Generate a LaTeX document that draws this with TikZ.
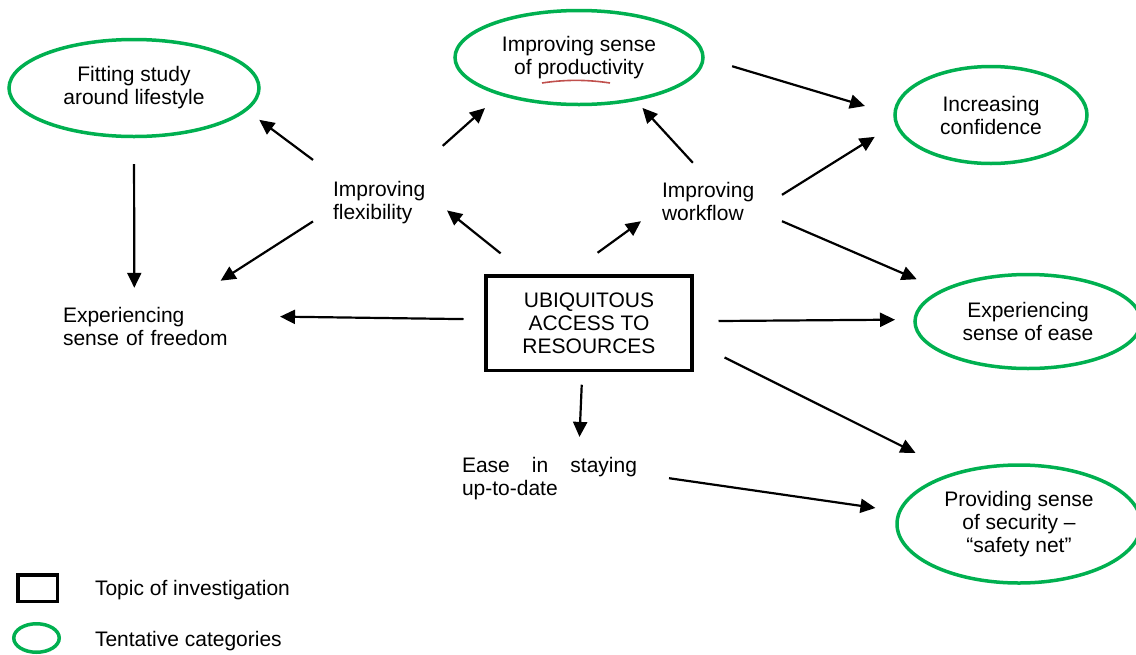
\documentclass[tikz,border=0pt]{standalone}
\usepackage{fontspec}
\setmainfont{Liberation Sans}
\usetikzlibrary{shapes.geometric,arrows.meta}

\definecolor{catgreen}{RGB}{0,176,80}
\definecolor{squigred}{RGB}{192,80,77}

\tikzset{
  cat/.style={ellipse, draw=catgreen, line width=3.5pt, inner sep=0pt,
              outer sep=0pt, align=center},
  topic/.style={rectangle, draw=black, line width=3.5pt, inner sep=0pt,
                outer sep=0pt, align=center},
  lbl/.style={rectangle, inner sep=0pt, outer sep=0pt, align=left},
  legtext/.style={anchor=base west, inner sep=0pt, outer sep=0pt},
  arr/.style={line width=2.2pt, -{Triangle[length=15pt,width=14pt]}},
  squiggle/.style={draw=squigred, line width=1.6pt},
}

\begin{document}
\begin{tikzpicture}[x=1pt, y=-1pt, font=\fontsize{21pt}{23pt}\selectfont]
\useasboundingbox (0,0) rectangle (1136,654);

% central topic
\node[topic, minimum width=206pt, minimum height=94.5pt] (topic) at (589,323)
  {UBIQUITOUS\\ACCESS TO\\RESOURCES};

% tentative categories
\node[cat, minimum width=250pt, minimum height=97pt] (fit) at (134,88)
  {Fitting study\\around lifestyle};
\node[cat, minimum width=248pt, minimum height=94pt] (prod) at (579,57.5)
  {Improving sense\\of productivity};
\node[cat, minimum width=192pt, minimum height=97pt] (conf) at (991,115)
  {Increasing\\confidence};
\node[cat, minimum width=226pt, minimum height=94pt] (ease) at (1028,321.5)
  {Experiencing\\sense of ease};
\node[cat, minimum width=244pt, minimum height=118pt] (sec) at (1019,524)
  {Providing sense\\of security --\\``safety net''};

% intermediate labels
\node[lbl, text width=94pt, inner xsep=20pt, inner ysep=21pt] (flex) at (380,202.2)
  {Improving\\flexibility};
\node[lbl, text width=99pt, inner xsep=21pt, inner ysep=19pt] (work) at (711.5,201)
  {Improving\\workflow};
\node[lbl, text width=166pt, inner xsep=51pt, inner ysep=19pt] (free) at (146,326)
  {Experiencing\\sense of freedom};
\node[lbl, text width=175pt, inner xsep=32pt, inner ysep=20pt] (stay) at (549.5,478.2)
  {\hbox to 175pt{Ease\hfil in\hfil staying}\\up-to-date};

% spelling mark under "productivity"
\draw[squiggle] (542,83) .. controls (565,79.5) and (587,79.5) .. (610,83);

% connectors
\draw[arr, shorten >=16.9pt] (flex.north west) -- (fit.-11.2);
\draw[arr, shorten <=21.1pt, shorten >=21.2pt] (flex.42.4) -- (prod.205.1);
\draw[arr, shorten >=13.1pt] (flex.196.5) -- (free.31.1);
\draw[arr, shorten <=27.5pt] (fit.south) -- (free.107.5);
\draw[arr, shorten <=35.8pt] (topic.142.6) -- (flex.-7.5);
\draw[arr, shorten <=39.1pt] (topic.116.8) -- (work.196.6);
\draw[arr, shorten >=11.4pt] (work.116.0) -- (prod.-37.3);
\draw[arr, shorten <=30.4pt, shorten >=31.4pt] (prod.0.2) -- (conf.180.8);
\draw[arr, shorten >=25.6pt] (work.5.7) -- (conf.185.9);
\draw[arr, shorten >=28.6pt] (work.-16.6) -- (ease.160.9);
\draw[arr, shorten <=22.5pt] (topic.178.6) -- (free.4.3);
\draw[arr, shorten <=26.5pt, shorten >=20.1pt] (topic.1.7) -- (ease.179.2);
\draw[arr, shorten <=36.4pt, shorten >=45.8pt] (topic.-10.2) -- (sec.141.3);
\draw[arr, shorten <=14.5pt] (topic.-98.9) -- (stay.54.4);
\draw[arr, shorten >=24.6pt] (stay.-0.9) -- (sec.174.5);

% legend
\node[topic, minimum width=39.5pt, minimum height=26.5pt] (legbox) at (37.5,588) {};
\node[legtext] (legtopic) at (95,595) {Topic of investigation};
\node[cat, minimum width=45.5pt, minimum height=28.5pt] (legcat) at (36.5,638) {};
\node[legtext] (legcattext) at (95,646) {Tentative categories};
\end{tikzpicture}
\end{document}
